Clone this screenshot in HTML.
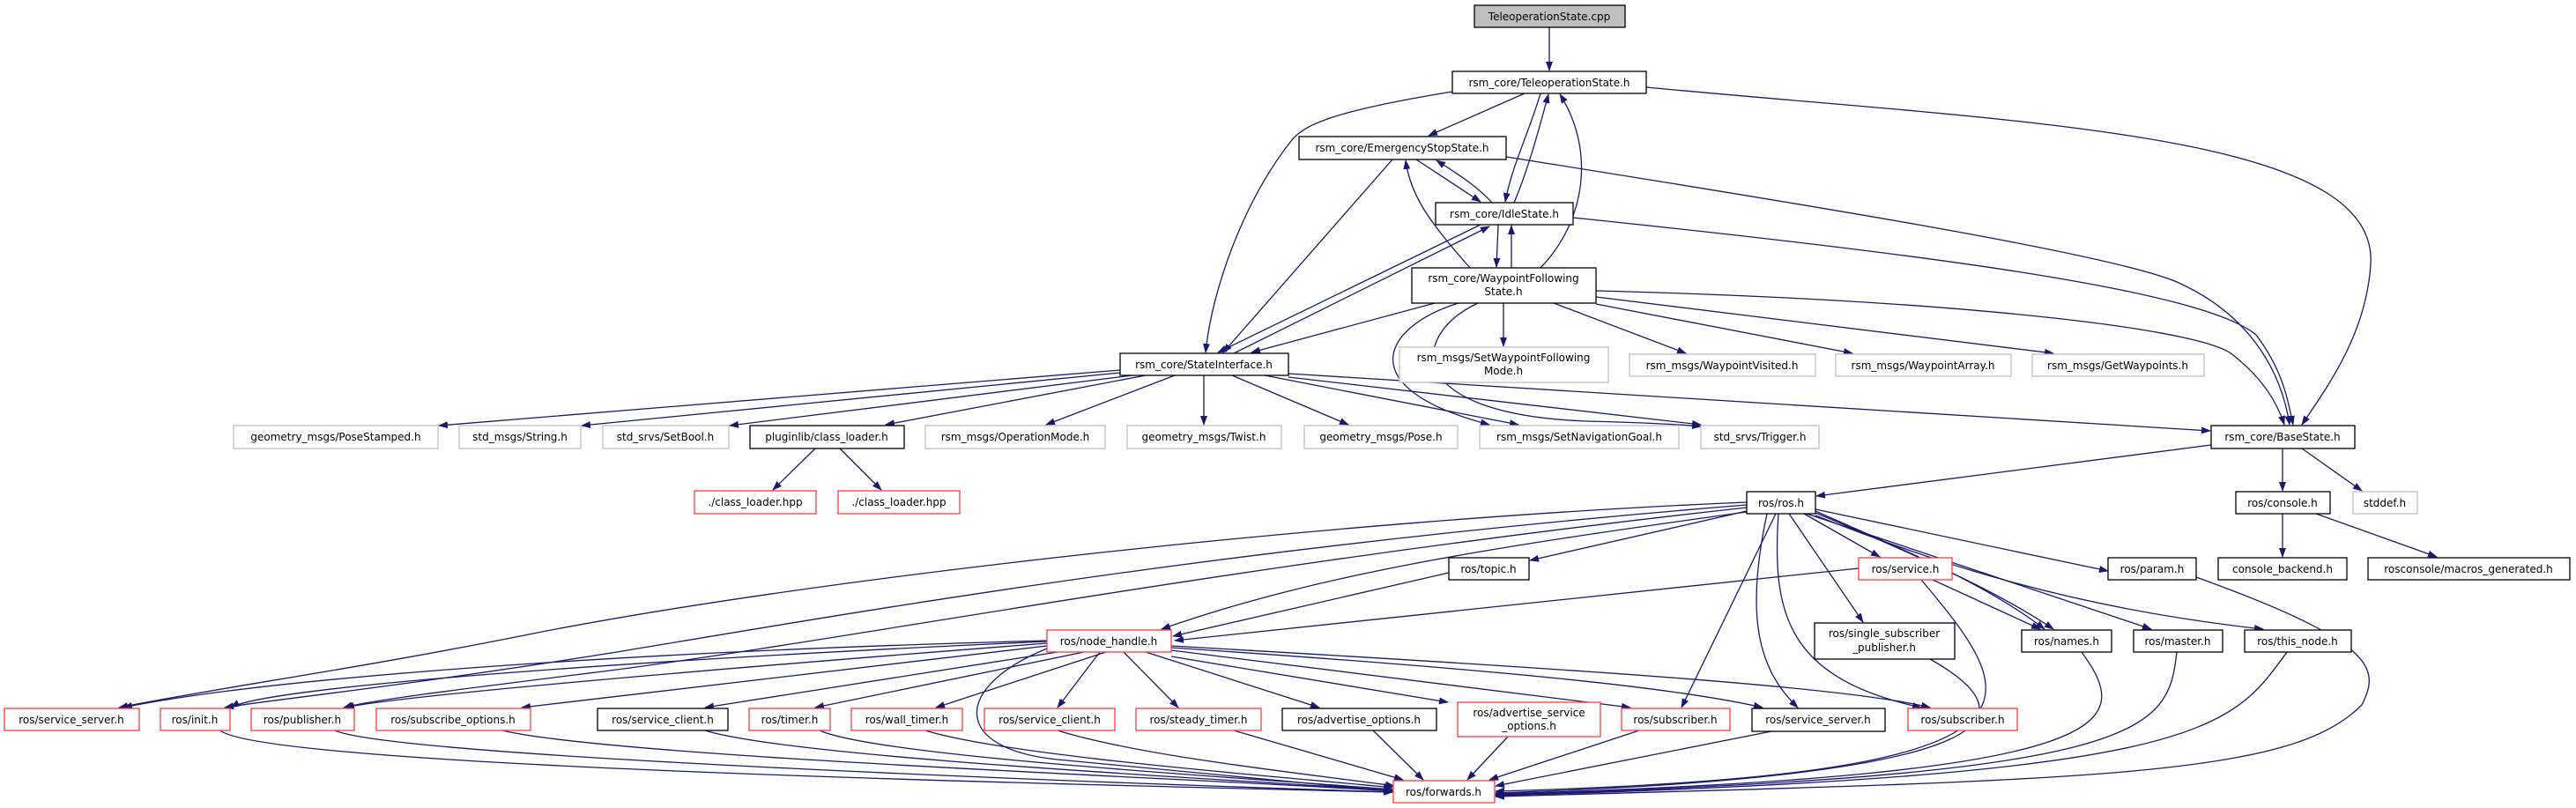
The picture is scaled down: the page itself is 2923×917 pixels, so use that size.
<!DOCTYPE html>
<html><head><meta charset="utf-8"><style>
html,body{margin:0;padding:0;background:#fff;}
svg{display:block;}
text{font-family:"DejaVu Sans","Liberation Sans",sans-serif;font-size:12px;fill:#000;text-anchor:middle;}
.e{fill:none;stroke:#191970;stroke-width:1.3;marker-end:url(#a);}
.n{fill:#fff;stroke:#000;stroke-width:1.3;}
.g{fill:#fff;stroke:#bfbfbf;stroke-width:1.3;}
.r{fill:#fff;stroke:#ff3b3b;stroke-width:1.3;}
</style></head><body>
<svg width="2923" height="917" viewBox="0 0 2923 917" xmlns="http://www.w3.org/2000/svg">
<defs><marker id="a" markerWidth="11" markerHeight="8" refX="10" refY="4" orient="auto" markerUnits="userSpaceOnUse"><path d="M0,0 L11,4 L0,8z" fill="#191970"/></marker></defs>
<g>
<path class="e" d="M1758,31 L1758,80"/>
<path class="e" d="M1730,106 L1621,154"/>
<path class="e" d="M1648,104 C1520,125 1480,140 1465,160 C1410,230 1375,330 1368,400"/>
<path class="e" d="M1748,106 C1735,150 1715,190 1708,229"/>
<path class="e" d="M1718,230 C1735,190 1748,140 1757,107"/>
<path class="e" d="M1748,304 C1800,250 1810,170 1770,107"/>
<path class="e" d="M1868,99 C2300,140 2700,150 2690,300 C2685,380 2640,440 2612,482"/>
<path class="e" d="M1709,178 C2100,240 2400,290 2470,320 C2560,360 2590,430 2598,482"/>
<path class="e" d="M1785,247 C2200,290 2500,330 2560,380 C2590,420 2595,450 2602,482"/>
<path class="e" d="M1811,330 C2200,340 2480,370 2530,400 C2570,430 2585,460 2592,482"/>
<path class="e" d="M1462,424 L2508,489"/>
<path class="e" d="M1607,181 L1680,229"/>
<path class="e" d="M1693,230 C1675,210 1650,195 1630,182"/>
<path class="e" d="M1580,181 L1388,400"/>
<path class="e" d="M1668,304 C1620,250 1600,220 1595,182"/>
<path class="e" d="M1700,255 L1698,303"/>
<path class="e" d="M1715,304 L1715,256"/>
<path class="e" d="M1680,255 L1382,400"/>
<path class="e" d="M1400,401 L1690,257"/>
<path class="e" d="M1628,344 L1420,400"/>
<path class="e" d="M1706,344 L1706,393"/>
<path class="e" d="M1763,344 L1913,401"/>
<path class="e" d="M1811,345 L2102,401"/>
<path class="e" d="M1811,337 L2330,401"/>
<path class="e" d="M1655,344 C1570,370 1530,440 1690,482"/>
<path class="e" d="M1677,344 C1600,380 1590,470 1800,478 C1880,480 1910,482 1930,484"/>
<path class="e" d="M1271,420 L498,483"/>
<path class="e" d="M1271,423 L660,483"/>
<path class="e" d="M1285,426 L828,483"/>
<path class="e" d="M1300,426 L1005,482"/>
<path class="e" d="M1333,426 L1187,482"/>
<path class="e" d="M1366,426 L1366,482"/>
<path class="e" d="M1398,426 L1530,482"/>
<path class="e" d="M1435,426 L1723,482"/>
<path class="e" d="M1462,428 L1930,482"/>
<path class="e" d="M925,509 L877,556"/>
<path class="e" d="M953,509 L1000,556"/>
<path class="e" d="M2509,505 L2061,563"/>
<path class="e" d="M2590,509 L2590,557"/>
<path class="e" d="M2612,509 L2680,557"/>
<path class="e" d="M2590,583 L2590,632"/>
<path class="e" d="M2628,583 L2765,632"/>
<path class="e" d="M2047,583 L2133,632"/>
<path class="e" d="M2060,578 L2392,648"/>
<path class="e" d="M1982,580 L1736,636"/>
<path class="e" d="M1982,581 C1700,620 1500,650 1318,714"/>
<path class="e" d="M1982,570 C1500,590 900,660 600,720 C400,760 250,780 135,803"/>
<path class="e" d="M1982,573 C1400,620 1000,690 700,740 C450,780 300,795 255,803"/>
<path class="e" d="M1982,576 C1400,640 1000,720 700,760 C500,785 420,795 390,803"/>
<path class="e" d="M2030,583 L2114,706"/>
<path class="e" d="M2060,582 C2200,640 2280,680 2330,714"/>
<path class="e" d="M2060,580 C2150,620 2250,660 2320,714"/>
<path class="e" d="M2050,583 L2441,714"/>
<path class="e" d="M2060,585 C2200,640 2350,690 2568,714"/>
<path class="e" d="M2015,583 L1908,803"/>
<path class="e" d="M2005,583 C1980,700 1995,760 2040,803"/>
<path class="e" d="M2018,583 C2010,700 2030,770 2180,803"/>
<path class="e" d="M2109,645 L1333,727"/>
<path class="e" d="M2193,658 L2315,714"/>
<path class="e" d="M2180,658 C2300,800 2350,880 1697,898"/>
<path class="e" d="M1644,650 L1331,722"/>
<path class="e" d="M1188,727 C700,740 300,770 140,803"/>
<path class="e" d="M1188,728 C700,750 300,780 262,803"/>
<path class="e" d="M1188,730 C800,760 450,790 392,803"/>
<path class="e" d="M1188,733 L592,803"/>
<path class="e" d="M1200,740 L800,803"/>
<path class="e" d="M1230,740 L925,803"/>
<path class="e" d="M1255,740 L1062,803"/>
<path class="e" d="M1248,740 L1200,803"/>
<path class="e" d="M1275,740 L1337,803"/>
<path class="e" d="M1300,740 L1497,803"/>
<path class="e" d="M1329,745 L1643,797"/>
<path class="e" d="M1329,738 L1850,803"/>
<path class="e" d="M1329,735 C1700,760 1900,780 2000,803"/>
<path class="e" d="M1329,733 C1800,760 2100,780 2190,803"/>
<path class="e" d="M1188,736 C1080,780 1080,850 1200,862 C1400,880 1550,895 1580,898"/>
<path class="e" d="M250,829 C300,870 1200,890 1580,899"/>
<path class="e" d="M380,829 C450,860 1300,890 1580,899"/>
<path class="e" d="M570,829 C700,860 1400,885 1580,898"/>
<path class="e" d="M800,829 C900,860 1400,885 1580,897"/>
<path class="e" d="M930,829 C1000,860 1450,885 1580,896"/>
<path class="e" d="M1050,829 C1150,860 1500,885 1580,894"/>
<path class="e" d="M1200,829 C1300,860 1500,880 1582,892"/>
<path class="e" d="M1400,829 L1592,885"/>
<path class="e" d="M1558,829 L1615,885"/>
<path class="e" d="M1711,836 L1665,885"/>
<path class="e" d="M1860,829 L1690,885"/>
<path class="e" d="M2010,830 L1697,892"/>
<path class="e" d="M2190,748 C2300,810 2300,880 1697,900"/>
<path class="e" d="M2362,740 C2420,820 2420,880 1697,901"/>
<path class="e" d="M2470,740 C2460,830 2440,880 1697,902"/>
<path class="e" d="M2595,740 C2530,830 2500,880 1697,903"/>
<path class="e" d="M2492,655 C2700,730 2700,760 2680,800 C2600,880 2400,885 1697,904"/>
</g>
<g>
<rect x="1673" y="6" width="171" height="25" fill="#bfbfbf" stroke="#000" stroke-width="1.3"/><text x="1758" y="23">TeleoperationState.cpp</text>
<rect class="n" x="1648" y="81" width="220" height="25"/><text x="1758" y="98">rsm_core/TeleoperationState.h</text>
<rect class="n" x="1474" y="155" width="235" height="26"/><text x="1591" y="172">rsm_core/EmergencyStopState.h</text>
<rect class="n" x="1629" y="230" width="156" height="25"/><text x="1707" y="247">rsm_core/IdleState.h</text>
<rect class="n" x="1602" y="304" width="209" height="40"/><text x="1706" y="320">rsm_core/WaypointFollowing</text><text x="1706" y="335">State.h</text>
<rect class="n" x="1271" y="401" width="191" height="25"/><text x="1366" y="418">rsm_core/StateInterface.h</text>
<rect class="g" x="1588" y="394" width="237" height="40"/><text x="1706" y="410">rsm_msgs/SetWaypointFollowing</text><text x="1706" y="425">Mode.h</text>
<rect class="g" x="1849" y="402" width="211" height="25"/><text x="1954" y="419">rsm_msgs/WaypointVisited.h</text>
<rect class="g" x="2083" y="402" width="199" height="25"/><text x="2182" y="419">rsm_msgs/WaypointArray.h</text>
<rect class="g" x="2306" y="402" width="195" height="25"/><text x="2403" y="419">rsm_msgs/GetWaypoints.h</text>
<rect class="g" x="265" y="483" width="232" height="26"/><text x="381" y="500">geometry_msgs/PoseStamped.h</text>
<rect class="g" x="521" y="483" width="138" height="26"/><text x="590" y="500">std_msgs/String.h</text>
<rect class="g" x="684" y="483" width="143" height="26"/><text x="755" y="500">std_srvs/SetBool.h</text>
<rect class="n" x="851" y="483" width="175" height="26"/><text x="938" y="500">pluginlib/class_loader.h</text>
<rect class="g" x="1050" y="483" width="204" height="26"/><text x="1152" y="500">rsm_msgs/OperationMode.h</text>
<rect class="g" x="1279" y="483" width="175" height="26"/><text x="1366" y="500">geometry_msgs/Twist.h</text>
<rect class="g" x="1480" y="483" width="174" height="26"/><text x="1567" y="500">geometry_msgs/Pose.h</text>
<rect class="g" x="1679" y="483" width="226" height="26"/><text x="1792" y="500">rsm_msgs/SetNavigationGoal.h</text>
<rect class="g" x="1930" y="483" width="134" height="26"/><text x="1997" y="500">std_srvs/Trigger.h</text>
<rect class="n" x="2509" y="483" width="163" height="26"/><text x="2590" y="500">rsm_core/BaseState.h</text>
<rect class="r" x="788" y="557" width="138" height="26"/><text x="857" y="574">./class_loader.hpp</text>
<rect class="r" x="951" y="557" width="138" height="26"/><text x="1020" y="574">./class_loader.hpp</text>
<rect class="n" x="1982" y="558" width="78" height="25"/><text x="2021" y="575">ros/ros.h</text>
<rect class="n" x="2537" y="558" width="107" height="25"/><text x="2590" y="575">ros/console.h</text>
<rect class="g" x="2670" y="558" width="73" height="25"/><text x="2706" y="575">stddef.h</text>
<rect class="r" x="2109" y="633" width="106" height="25"/><text x="2162" y="650">ros/service.h</text>
<rect class="n" x="1644" y="633" width="91" height="25"/><text x="1689" y="650">ros/topic.h</text>
<rect class="n" x="2392" y="633" width="100" height="25"/><text x="2442" y="650">ros/param.h</text>
<rect class="n" x="2517" y="633" width="146" height="25"/><text x="2590" y="650">console_backend.h</text>
<rect class="n" x="2687" y="633" width="229" height="25"/><text x="2801" y="650">rosconsole/macros_generated.h</text>
<rect class="r" x="1188" y="715" width="141" height="25"/><text x="1258" y="732">ros/node_handle.h</text>
<rect class="n" x="2059" y="707" width="159" height="41"/><text x="2138" y="723">ros/single_subscriber</text><text x="2138" y="739">_publisher.h</text>
<rect class="n" x="2294" y="715" width="102" height="25"/><text x="2345" y="732">ros/names.h</text>
<rect class="n" x="2421" y="715" width="101" height="25"/><text x="2471" y="732">ros/master.h</text>
<rect class="n" x="2547" y="715" width="121" height="25"/><text x="2607" y="732">ros/this_node.h</text>
<rect class="r" x="5" y="804" width="153" height="25"/><text x="81" y="821">ros/service_server.h</text>
<rect class="r" x="182" y="804" width="79" height="25"/><text x="221" y="821">ros/init.h</text>
<rect class="r" x="285" y="804" width="117" height="25"/><text x="343" y="821">ros/publisher.h</text>
<rect class="r" x="427" y="804" width="175" height="25"/><text x="514" y="821">ros/subscribe_options.h</text>
<rect class="n" x="678" y="804" width="148" height="25"/><text x="752" y="821">ros/service_client.h</text>
<rect class="r" x="850" y="804" width="92" height="25"/><text x="896" y="821">ros/timer.h</text>
<rect class="r" x="966" y="804" width="126" height="25"/><text x="1029" y="821">ros/wall_timer.h</text>
<rect class="r" x="1117" y="804" width="148" height="25"/><text x="1191" y="821">ros/service_client.h</text>
<rect class="r" x="1289" y="804" width="142" height="25"/><text x="1360" y="821">ros/steady_timer.h</text>
<rect class="n" x="1455" y="804" width="175" height="25"/><text x="1542" y="821">ros/advertise_options.h</text>
<rect class="r" x="1654" y="797" width="162" height="39"/><text x="1735" y="813">ros/advertise_service</text><text x="1735" y="828">_options.h</text>
<rect class="r" x="1840" y="804" width="123" height="25"/><text x="1901" y="821">ros/subscriber.h</text>
<rect class="n" x="1988" y="804" width="151" height="26"/><text x="2063" y="821">ros/service_server.h</text>
<rect class="r" x="2165" y="804" width="124" height="25"/><text x="2227" y="821">ros/subscriber.h</text>
<rect class="r" x="1581" y="886" width="115" height="25"/><text x="1638" y="903">ros/forwards.h</text>
</g>
</svg>
</body></html>
